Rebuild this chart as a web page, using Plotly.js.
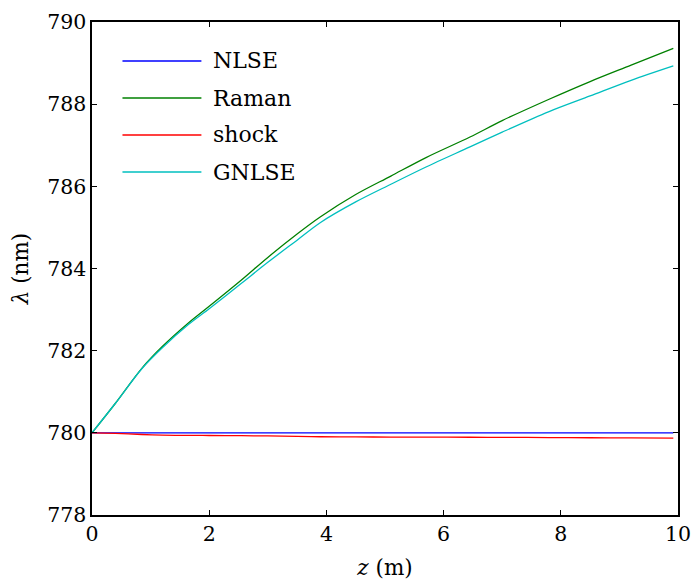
<!DOCTYPE html>
<html>
<head>
<meta charset="utf-8">
<script src="https://cdn.plot.ly/plotly-3.0.1.min.js"></script>
<style>html,body{margin:0;padding:0;background:#fff;}#chart{width:694px;height:583px;}</style>
</head>
<body>
<div id="chart"></div>
<script>
// Propagation distance z (m)
const z = [0, 0.4, 0.85, 1.2, 1.65, 2.0, 2.55, 3.0, 3.5, 3.9, 4.5, 5.1, 5.7, 6.45, 7.0, 7.8, 8.5, 9.2, 9.92];
// Central wavelength lambda (nm) per model
const nlse  = [780, 780, 780, 780, 780, 780, 780, 780, 780, 780, 780, 780, 780, 780, 780, 780, 780, 780, 780];
const raman = [780, 780.72, 781.57, 782.1, 782.68, 783.08, 783.72, 784.27, 784.84, 785.26, 785.8, 786.25, 786.7, 787.2, 787.6, 788.12, 788.55, 788.95, 789.36];
const shock = [780, 779.985, 779.96, 779.945, 779.937, 779.935, 779.93, 779.925, 779.915, 779.905, 779.9, 779.897, 779.895, 779.892, 779.89, 779.885, 779.88, 779.875, 779.87];
const gnlse = [780, 780.72, 781.56, 782.07, 782.64, 783.02, 783.64, 784.15, 784.69, 785.12, 785.62, 786.05, 786.47, 786.96, 787.32, 787.82, 788.2, 788.58, 788.93];
const names = ["NLSE", "Raman", "shock", "GNLSE"];
const colors = ["#0000ff", "#008000", "#ff0000", "#00bfbf"];
const xTicks = [0, 2, 4, 6, 8, 10];
const yTicks = [778, 780, 782, 784, 786, 788, 790];

const series = [nlse, raman, shock, gnlse];
const traces = series.map((y, i) => ({
  x: z, y: y, type: "scatter", mode: "lines", name: names[i],
  line: {color: colors[i], width: 1.3, shape: "spline", smoothing: 0.9},
  showlegend: false
}));

const font = "DejaVu Serif";
// custom legend (long line samples as in the reference)
const legY = [0.9209, 0.8458, 0.7708, 0.6957];
const shapes = names.map((n, i) => ({
  type: "line", xref: "paper", yref: "paper",
  x0: 0.052, x1: 0.1867, y0: legY[i], y1: legY[i],
  line: {color: colors[i], width: 1.3}
}));
const annotations = names.map((n, i) => ({
  text: n, xref: "paper", yref: "paper", x: 0.2037, y: legY[i],
  xanchor: "left", yanchor: "middle", showarrow: false,
  font: {family: font, size: 22, color: "#000"}
}));

const axisCommon = {
  showgrid: false, zeroline: false, showline: true, linecolor: "#000", linewidth: 1.6,
  mirror: "ticks", ticks: "inside", ticklen: 5, tickwidth: 1.2, tickcolor: "#000",
  tickfont: {family: font, size: 20.5, color: "#000"}
};

const layout = {
  width: 694, height: 583,
  margin: {l: 91.5, r: 16, t: 22, b: 68},
  paper_bgcolor: "#fff", plot_bgcolor: "#fff",
  showlegend: false,
  xaxis: Object.assign({}, axisCommon, {
    range: [0, 10], tickvals: xTicks, ticktext: xTicks.map(String),
    title: {text: "<i>z</i> (m)", font: {family: font, size: 21.5, color: "#000"}, standoff: 15}
  }),
  yaxis: Object.assign({}, axisCommon, {
    range: [778, 790], tickvals: yTicks, ticktext: yTicks.map(String),
    title: {text: "<i>λ</i> (nm)", font: {family: font, size: 21.5, color: "#000"}, standoff: 12}
  }),
  shapes: shapes,
  annotations: annotations
};

Plotly.newPlot("chart", traces, layout, {displayModeBar: false, staticPlot: true});
</script>
</body>
</html>
